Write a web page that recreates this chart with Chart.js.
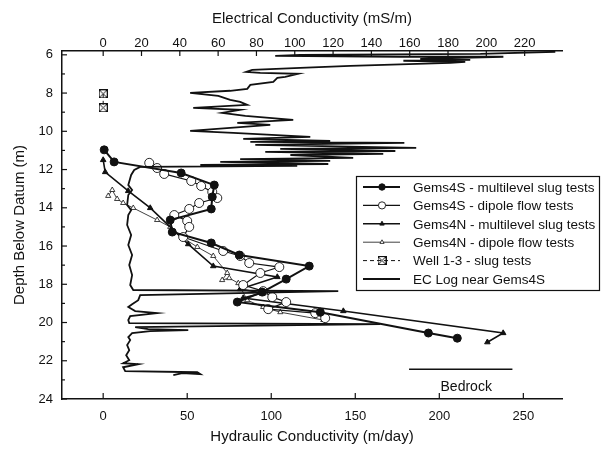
<!DOCTYPE html>
<html>
<head>
<meta charset="utf-8">
<script src="https://cdn.jsdelivr.net/npm/chart.js@4.4.0/dist/chart.umd.min.js"></script>
<style>
  html, body { margin: 0; padding: 0; background: #fff; }
</style>
</head>
<body>
<canvas id="myChart" width="607" height="454"></canvas>
<script>
// tick labels
const depthTicks = [6, 8, 10, 12, 14, 16, 18, 20, 22, 24];
const hkTicks = [0, 50, 100, 150, 200, 250];
const ecTicks = [0, 20, 40, 60, 80, 100, 120, 140, 160, 180, 200, 220];

// EC log near Gems4S (mS/m vs depth m)
const ecValue = [236, 196.9, 102.9, 89.8, 155.1, 208.9, 165.5, 191.6, 156.7, 189, 181.2, 129, 102.9, 77.8, 74.7, 82, 101.8, 95, 90.9, 88.8,
  76.8, 75.2, 66.3, 45.4, 60.1, 66.3, 71.5, 75.2, 47, 71.5, 62.1, 74.2, 99.2, 70, 87.2, 45.4, 67.9, 108.1, 73.1, 118.5,
  76.8, 157.2, 79.4, 163.4, 92.4, 152.5, 84.6, 146.2, 97.7, 130.5, 71.5, 118.5, 61.1, 117.5, 50.7, 101.3, 19.3,
  16.2, 14.6, 13.1, 15.1, 13.1, 12.5, 14.6, 13.1, 12.5, 14.6, 13.1, 15.1, 13.6, 15.1, 14.1, 15.7, 122.7, 19.3, 18.3, 15.1, 13.1,
  16.7, 28.2, 14.1, 13.1, 13.6, 144.6, 16.7, 23.5, 44.4, 24.5, 15.1, 13.1, 14.1, 12.5, 13.6, 12.0, 13.6, 10.4, 18.3, 10.4,
  11.5, 49.1, 50.7, 41.3, 36.6];
const ecDepth = [5.84, 5.95, 6.0, 6.05, 6.1, 6.1, 6.21, 6.26, 6.31, 6.37, 6.42, 6.58, 6.68, 6.79, 6.89, 6.94, 6.99, 7.15, 7.2, 7.41,
  7.57, 7.78, 7.88, 7.99, 8.15, 8.36, 8.46, 8.62, 8.77, 8.88, 9.04, 9.19, 9.4, 9.56, 9.66, 9.98, 10.08, 10.29, 10.4, 10.5,
  10.55, 10.61, 10.71, 10.87, 10.92, 11.03, 11.08, 11.18, 11.24, 11.39, 11.45, 11.55, 11.6, 11.71, 11.76, 11.81, 11.86,
  12.02, 12.28, 12.81, 13.07, 13.33, 13.85, 14.12, 14.38, 14.9, 15.42, 15.95, 16.47, 16.99, 17.52, 18.04, 18.3, 18.36, 18.57, 18.83, 19.04, 19.19,
  19.4, 19.51, 19.66, 19.87, 20.03, 20.08, 20.24, 20.35, 20.4, 20.45, 20.55, 20.76, 20.92, 21.18, 21.45, 21.71, 21.97, 22.13, 22.18, 22.34,
  22.54, 22.6, 22.7, 22.65, 22.75];

// Gems4S - multilevel slug tests (m/day)
const g4sSlugK = [0.6, 6.5, 46.4, 66.1, 64.9, 64.3, 39.9, 41.1, 64.3, 81.0, 122.6, 108.9, 94.6, 79.8, 129.2, 193.5, 210.7];
const g4sSlugDepth = [10.97, 11.6, 12.18, 12.81, 13.43, 14.06, 14.64, 15.27, 15.84, 16.47, 17.05, 17.73, 18.41, 18.93, 19.46, 20.55, 20.82];

// Gems4S - dipole flow tests
const g4sDipoleK = [27.4, 32.1, 36.3, 52.4, 58.3, 64.9, 67.9, 57.1, 51.2, 42.3, 50.0, 51.2, 47.6, 71.4, 81.5, 86.9, 104.8, 93.5, 83.3, 95.2, 100.6, 108.9, 98.2, 126.2, 132.1];
const g4sDipoleDepth = [11.65, 11.92, 12.23, 12.6, 12.86, 13.17, 13.49, 13.75, 14.06, 14.38, 14.69, 15.0, 15.53, 16.26, 16.52, 16.89, 17.1, 17.41, 18.04, 18.36, 18.67, 18.93, 19.3, 19.51, 19.77];

// Gems4N - multilevel slug tests
const g4nSlugK = [0, 1.2, 14.9, 28.0, 50.6, 65.5, 103.6, 81.5, 94.6, 83.3, 142.9, 238.0, 228.6];
const g4nSlugDepth = [11.5, 12.13, 13.12, 14.01, 15.9, 17.05, 17.62, 18.25, 18.46, 18.72, 19.4, 20.55, 21.03];

// Gems4N - dipole flow tests
const g4nDipoleK = [3.0, 5.4, 8.3, 11.9, 17.9, 32.1, 39.9, 47.6, 56.0, 65.5, 73.8, 70.8, 75.0, 80.4, 85.7, 95.2, 105.4, 131.0];
const g4nDipoleDepth = [13.38, 13.07, 13.54, 13.75, 14.01, 14.64, 15.0, 15.58, 16.05, 16.52, 17.41, 17.78, 17.68, 17.94, 18.83, 19.19, 19.46, 19.87];

// Well 1-3 - slug tests
const wellK = [0, 0];
const wellDepth = [8.04, 8.77];

// bedrock marker
const bedrockK = [182, 243.5];
const bedrockDepth = [22.45, 22.45];
const bedrockLabel = { k: 216, depth: 23.38, text: 'Bedrock' };

const ink = '#111';
const zip = (xs, ys) => xs.map((v, i) => ({ x: v, y: ys[i] }));

// square with a cross for Well 1-3
const boxX = document.createElement('canvas');
boxX.width = 9; boxX.height = 9;
const bx = boxX.getContext('2d');
bx.strokeStyle = ink; bx.lineWidth = 1;
bx.strokeRect(0.5, 0.5, 8, 8);
bx.beginPath(); bx.moveTo(0.5, 0.5); bx.lineTo(8.5, 8.5); bx.moveTo(8.5, 0.5); bx.lineTo(0.5, 8.5); bx.stroke();

const datasets = [
  { label: 'EC Log near Gems4S', data: zip(ecValue, ecDepth), xAxisID: 'x2',
    borderColor: ink, borderWidth: 1.8, pointRadius: 0 },
  { label: 'Gems4S - multilevel slug tests', data: zip(g4sSlugK, g4sSlugDepth),
    borderColor: ink, borderWidth: 2, pointStyle: 'circle', pointRadius: 4,
    pointBackgroundColor: ink, pointBorderColor: ink, pointBorderWidth: 1 },
  { label: 'Gems4S - dipole flow tests', data: zip(g4sDipoleK, g4sDipoleDepth),
    borderColor: ink, borderWidth: 1.2, pointStyle: 'circle', pointRadius: 4.5,
    pointBackgroundColor: '#fff', pointBorderColor: ink, pointBorderWidth: 0.9 },
  { label: 'Gems4N - multilevel slug tests', data: zip(g4nSlugK, g4nSlugDepth),
    borderColor: ink, borderWidth: 1.6, pointStyle: 'triangle', pointRadius: 3.2,
    pointBackgroundColor: ink, pointBorderColor: ink, pointBorderWidth: 1 },
  { label: 'Gems4N - dipole flow tests', data: zip(g4nDipoleK, g4nDipoleDepth),
    borderColor: ink, borderWidth: 0.8, pointStyle: 'triangle', pointRadius: 3,
    pointBackgroundColor: '#fff', pointBorderColor: ink, pointBorderWidth: 0.8 },
  { label: 'Well 1-3 - slug tests', data: zip(wellK, wellDepth),
    borderColor: ink, borderWidth: 1, borderDash: [4, 3], pointStyle: boxX, pointRadius: 4 },
  { label: 'bedrock', data: zip(bedrockK, bedrockDepth),
    borderColor: ink, borderWidth: 1.5, pointRadius: 0 }
];

const legendItems = [1, 2, 3, 4, 5, 0];

const overlay = {
  id: 'overlay',
  afterDraw(chart) {
    const { ctx, scales } = chart;
    const x = scales.x, x2 = scales.x2, y = scales.y;
    const seg = (a, b, c, d) => { ctx.beginPath(); ctx.moveTo(a, b); ctx.lineTo(c, d); ctx.stroke(); };
    ctx.save();
    ctx.strokeStyle = ink;
    ctx.lineWidth = 1.2;
    hkTicks.forEach(v => { const p = x.getPixelForValue(v); seg(p, y.bottom, p, y.bottom - 6); });
    ecTicks.forEach(v => { const p = x2.getPixelForValue(v); seg(p, y.top, p, y.top + 5); });
    for (let d = 6; d <= 24; d++) {
      const p = y.getPixelForValue(d);
      seg(x.left, p, x.left + (d % 2 ? 3 : 5), p);
    }

    // bedrock text
    ctx.fillStyle = ink;
    ctx.font = '14px "Liberation Sans", Arial, sans-serif';
    ctx.textAlign = 'center';
    ctx.textBaseline = 'middle';
    ctx.fillText(bedrockLabel.text, x.getPixelForValue(bedrockLabel.k), y.getPixelForValue(bedrockLabel.depth));

    // legend box
    ctx.lineWidth = 1.2;
    ctx.setLineDash([]);
    ctx.strokeRect(356.5, 176.5, 243, 114);
    ctx.font = '13.5px "Liberation Sans", Arial, sans-serif';
    ctx.textAlign = 'left';
    legendItems.forEach((idx, i) => {
      const ds = chart.data.datasets[idx];
      const ry = 187 + i * 18.4;
      ctx.save();
      ctx.lineWidth = ds.borderWidth;
      ctx.setLineDash(ds.borderDash || []);
      seg(363, ry, 400, ry);
      ctx.restore();
      if (ds.pointRadius) {
        ctx.save();
        ctx.fillStyle = ds.pointBackgroundColor || '#fff';
        ctx.strokeStyle = ink;
        ctx.lineWidth = ds.pointBorderWidth || 1;
        Chart.helpers.drawPoint(ctx, { pointStyle: ds.pointStyle, radius: ds.pointRadius * 0.8,
          rotation: 0, borderWidth: ds.pointBorderWidth || 1 }, 382, ry);
        ctx.restore();
      }
      ctx.fillText(ds.label, 413, ry + 1);
    });
    ctx.restore();
  }
};

const axisFont = { family: '"Liberation Sans", Arial, sans-serif', size: 13 };
const titleFont = { family: '"Liberation Sans", Arial, sans-serif', size: 15 };

const myChart = new Chart(document.getElementById('myChart'), {
  type: 'scatter',
  data: { datasets: datasets.map(d => Object.assign({ showLine: true, tension: 0, fill: false }, d)) },
  options: {
    responsive: false,
    animation: false,
    layout: { padding: { top: 0, left: 0, bottom: 0, right: 45 } },
    plugins: { legend: { display: false }, tooltip: { enabled: false } },
    scales: {
      x: {
        type: 'linear', position: 'bottom', min: -24.5, max: 273,
        afterBuildTicks: s => { s.ticks = hkTicks.map(v => ({ value: v })); },
        afterFit: s => { s.height = 55; },
        grid: { drawOnChartArea: false, drawTicks: false },
        border: { display: true, color: ink, width: 1.5 },
        ticks: { color: ink, font: axisFont, padding: 10, maxRotation: 0 },
        title: { display: true, text: 'Hydraulic Conductivity (m/day)', color: ink, font: titleFont, padding: { top: 0, bottom: 8 } }
      },
      x2: {
        type: 'linear', position: 'top', min: -21.5, max: 239.5,
        afterBuildTicks: s => { s.ticks = ecTicks.map(v => ({ value: v })); },
        afterFit: s => { s.height = 51; },
        grid: { drawOnChartArea: false, drawTicks: false },
        border: { display: true, color: ink, width: 1.5 },
        ticks: { color: ink, font: axisFont, padding: 0, maxRotation: 0 },
        title: { display: true, text: 'Electrical Conductivity (mS/m)', color: ink, font: titleFont, padding: { top: 10, bottom: 0 } }
      },
      y: {
        type: 'linear', position: 'left', min: 5.8, max: 24, reverse: true,
        afterBuildTicks: s => { s.ticks = depthTicks.map(v => ({ value: v })); },
        afterFit: s => { s.width = 62; },
        grid: { drawOnChartArea: false, drawTicks: false },
        border: { display: true, color: ink, width: 1.5 },
        ticks: { color: ink, font: axisFont, padding: 9 },
        title: { display: true, text: 'Depth Below Datum (m)', color: ink, font: titleFont, padding: { top: 11, bottom: 0 } }
      }
    }
  },
  plugins: [overlay]
});
</script>
</body>
</html>
